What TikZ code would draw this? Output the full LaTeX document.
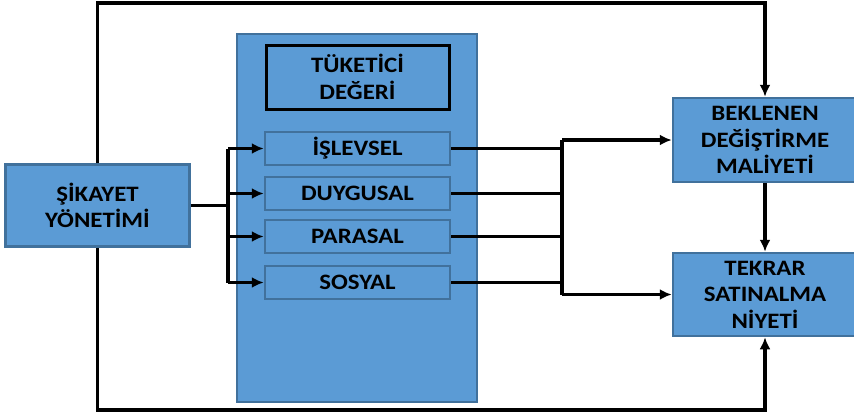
\documentclass[tikz,border=0pt]{standalone}
\usepackage{fontspec}
\setmainfont{Carlito}[FakeStretch=1.13]
\usetikzlibrary{arrows.meta}
\definecolor{boxfill}{HTML}{5B9BD5}
\definecolor{boxedge}{HTML}{41719C}
\begin{document}
\begin{tikzpicture}[x=1pt,y=-1pt,
  bluebox/.style={draw=boxedge,line width=2.5pt,fill=boxfill,align=center,
    font=\bfseries\fontsize{22}{26.5}\selectfont,inner sep=0pt},
  factor/.style={bluebox,minimum width=185pt,minimum height=33pt},
  wire/.style={line width=3.5pt,black},
  arrow/.style={wire,-{Latex[length=12pt,width=11pt]}}]
\useasboundingbox (0,0) rectangle (854,416);

% main blocks
\node[bluebox,minimum width=184pt,minimum height=82pt] (sik) at (97.5,205.5) {ŞİKAYET\\YÖNETİMİ};
\node[bluebox,line width=2pt,minimum width=240pt,minimum height=368pt] (cv) at (357,218) {};
\node[bluebox,draw=black,line width=3pt,minimum width=183pt,minimum height=64pt] (tuk) at (357.5,77) {TÜKETİCİ\\DEĞERİ};
\node[factor] (isl) at (357.5,148.5) {İŞLEVSEL};
\node[factor] (duy) at (357.5,193.5) {DUYGUSAL};
\node[factor] (par) at (357.5,236.5) {PARASAL};
\node[factor] (sos) at (357.5,282.5) {SOSYAL};
\node[bluebox,minimum width=184pt,minimum height=84pt] (bek) at (765,140) {BEKLENEN\\DEĞİŞTİRME\\MALİYETİ};
\node[bluebox,minimum width=184pt,minimum height=83pt] (tek) at (765,294.5) {TEKRAR\\SATINALMA\\NİYETİ};

% bus positions
\coordinate (bl) at (228,0);
\coordinate (br) at (562,0);
\coordinate (top) at (0,3);
\coordinate (bot) at (0,410);

% left fan-out
\draw[wire] (sik.east) -- (sik.east -| bl);
\draw[wire] (bl |- isl) -- (bl |- sos);
\foreach \n in {isl,duy,par,sos}
  \draw[arrow] (bl |- \n) -- (\n.west);

% right fan-in
\foreach \n in {isl,duy,par,sos}
  \draw[wire] (\n.east) -- (\n.east -| br);
\draw[wire] (br |- bek) -- (br |- tek);
\draw[arrow] (br |- bek) -- (bek.west);
\draw[arrow] (br |- tek) -- (tek.west);

% outer loop and vertical link
\draw[arrow] (sik.north) -- (sik.north |- top) -| (bek.north);
\draw[arrow] (sik.south) -- (sik.south |- bot) -| (tek.south);
\draw[arrow] (bek.south) -- (tek.north);
\end{tikzpicture}
\end{document}
